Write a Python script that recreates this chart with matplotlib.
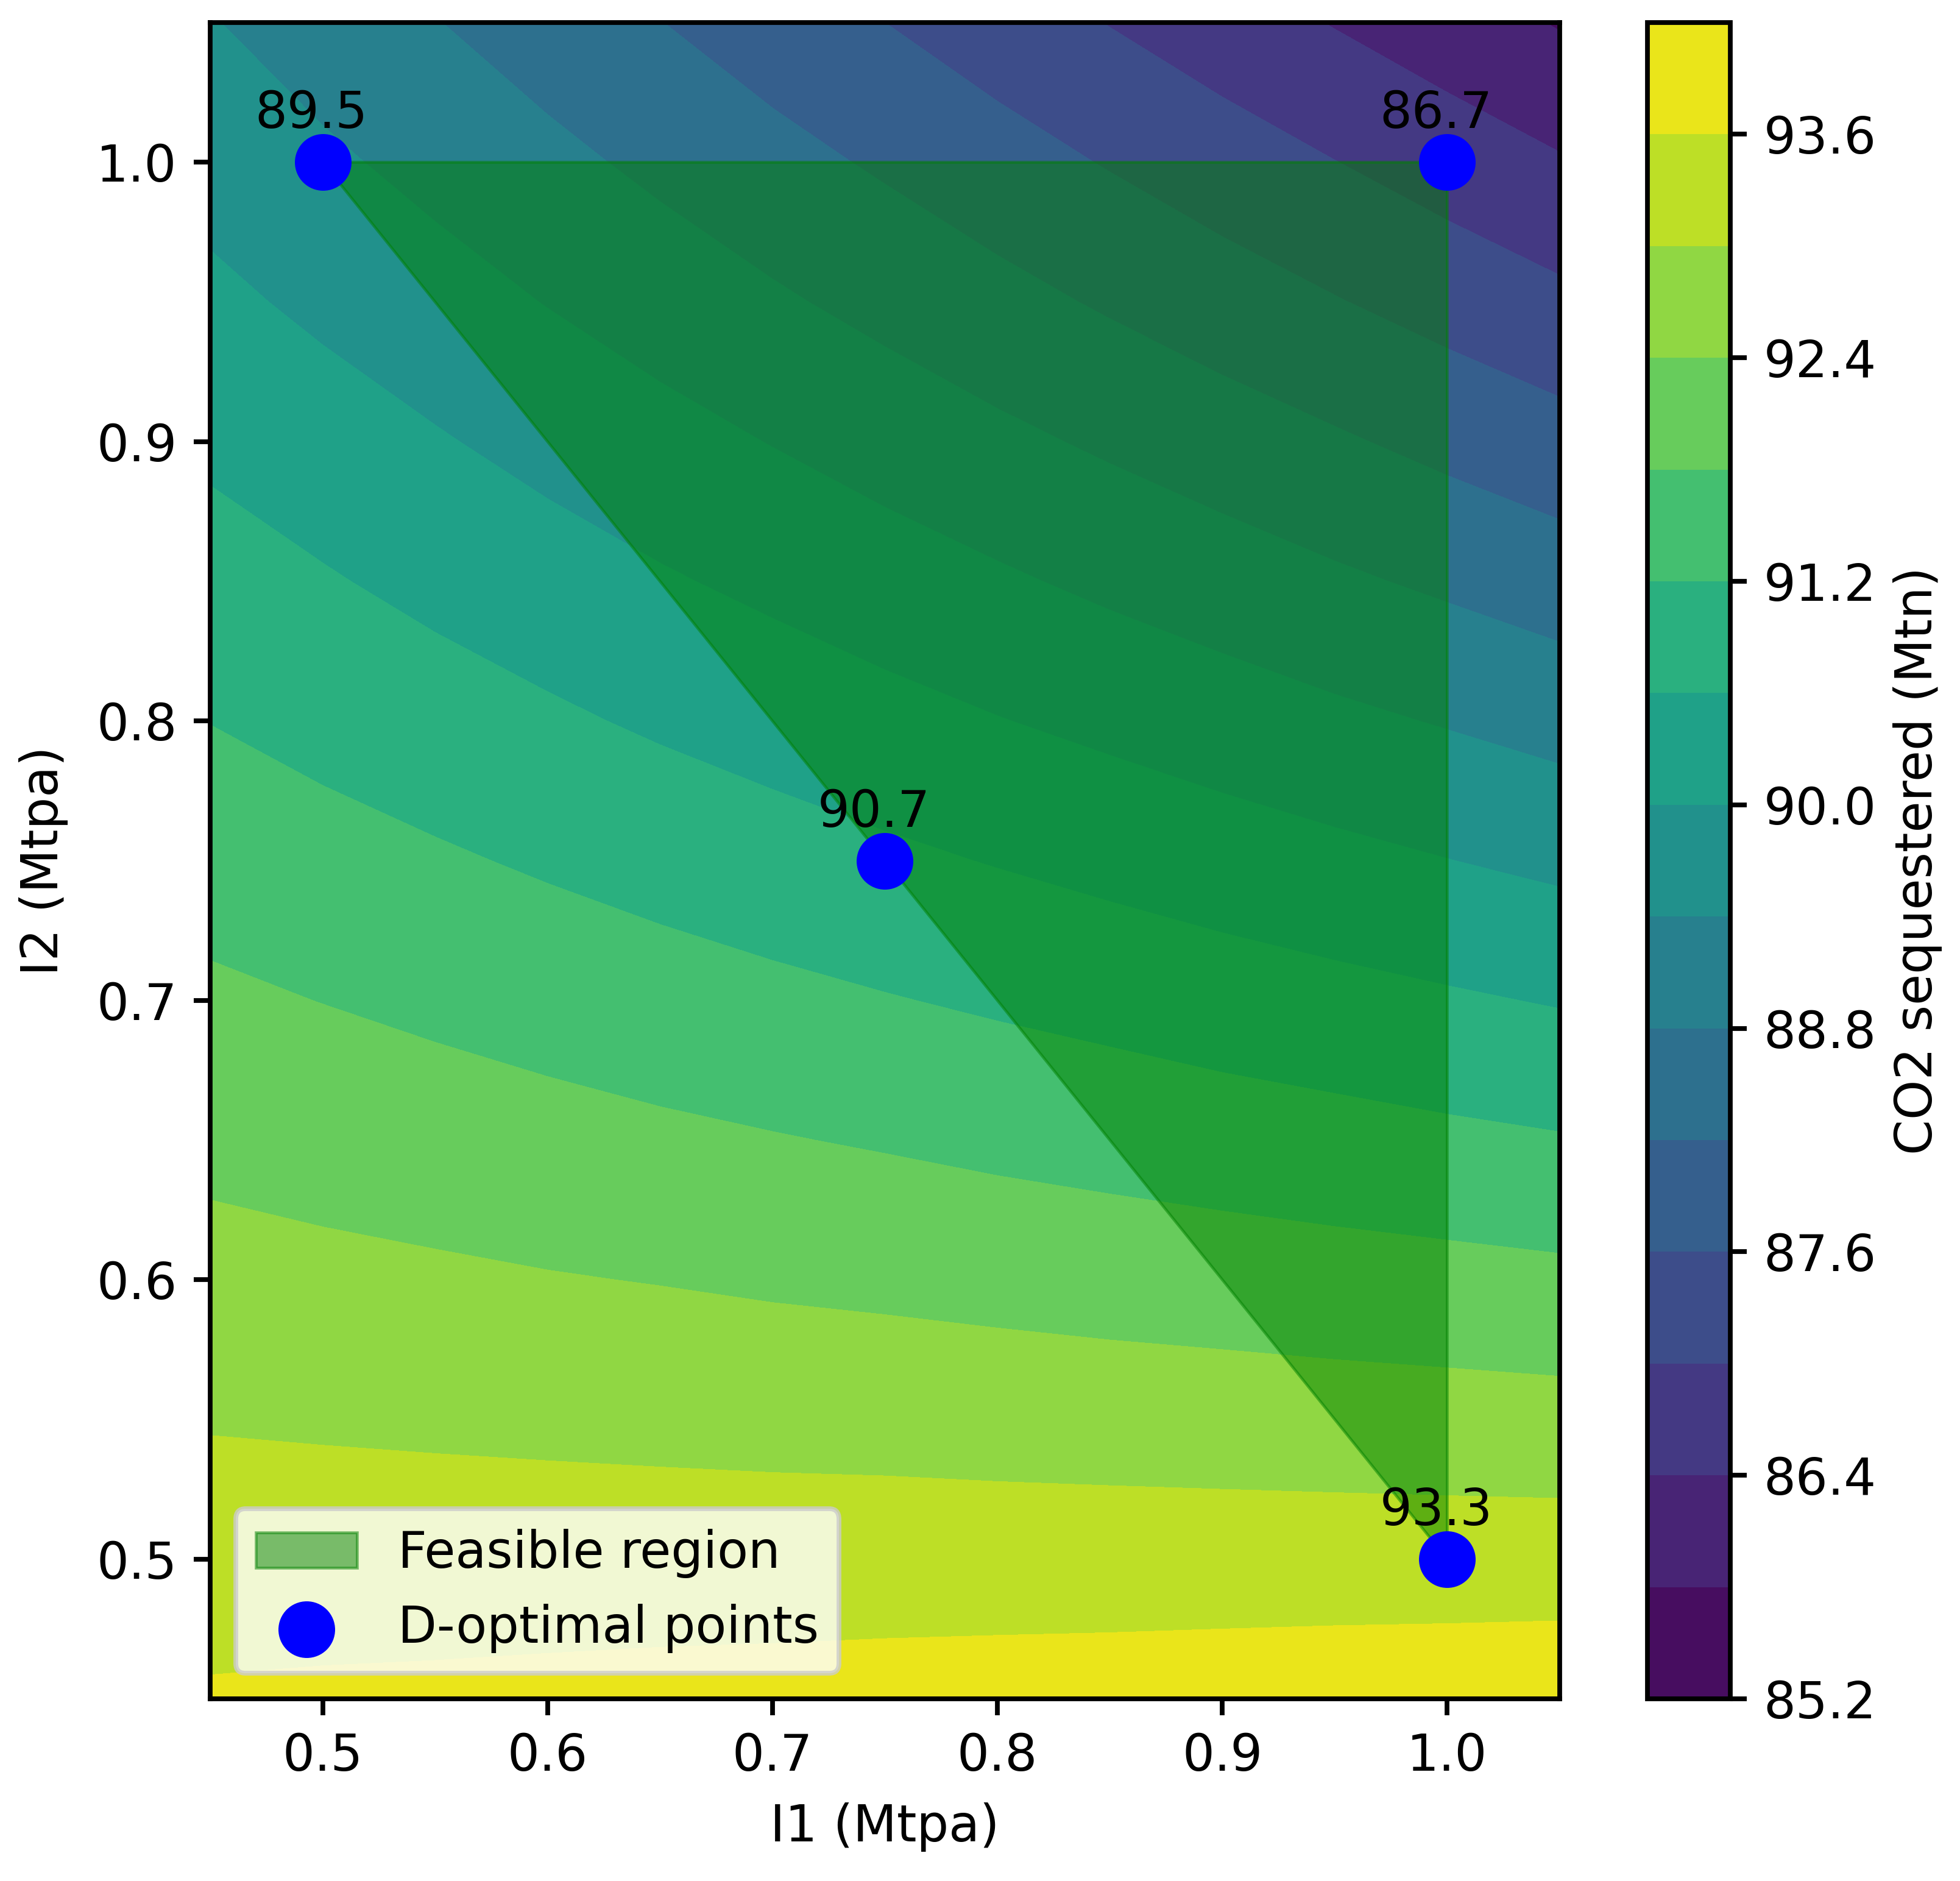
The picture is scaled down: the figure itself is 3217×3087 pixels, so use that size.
import matplotlib
matplotlib.use('Agg')
import matplotlib.pyplot as plt
import numpy as np

# Valores
i1 = [0.45, 0.50, 0.55, 0.60, 0.65, 0.70, 0.75, 0.80, 0.85, 0.90, 0.95, 1.00, 1.05]
i2 = [0.45, 0.50, 0.55, 0.60, 0.65, 0.70, 0.75, 0.80, 0.85, 0.90, 0.95, 1.00, 1.05]
co2 = [
    [93.66, 93.69, 93.71, 93.74, 93.77, 93.79, 93.82, 93.85, 93.87, 93.90, 93.93, 93.95, 93.98],
    [93.31, 93.31, 93.31, 93.31, 93.31, 93.31, 93.31, 93.30, 93.30, 93.30, 93.30, 93.30, 93.30],
    [92.96, 92.93, 92.90, 92.87, 92.84, 92.81, 92.79, 92.76, 92.73, 92.70, 92.67, 92.64, 92.61],
    [92.60, 92.54, 92.49, 92.43, 92.38, 92.32, 92.27, 92.21, 92.15, 92.10, 92.04, 91.99, 91.93],
    [92.25, 92.17, 92.08, 92.00, 91.91, 91.83, 91.75, 91.66, 91.58, 91.49, 91.41, 91.32, 91.24],
    [91.90, 91.79, 91.68, 91.56, 91.45, 91.34, 91.23, 91.12, 91.01, 90.89, 90.78, 90.67, 90.56],
    [91.55, 91.41, 91.27, 91.13, 90.99, 90.85, 90.71, 90.57, 90.43, 90.29, 90.15, 90.01, 89.87],
    [91.19, 91.02, 90.86, 90.69, 90.52, 90.36, 90.19, 90.02, 89.86, 89.69, 89.52, 89.36, 89.19],
    [90.84, 90.65, 90.45, 90.26, 90.06, 89.87, 89.67, 89.48, 89.28, 89.09, 88.89, 88.70, 88.50],
    [90.49, 90.27, 90.05, 89.82, 89.60, 89.38, 89.16, 88.93, 88.71, 88.49, 88.27, 88.04, 87.82],
    [90.13, 89.88, 89.63, 89.38, 89.13, 88.88, 88.63, 88.38, 88.13, 87.88, 87.63, 87.38, 87.13],
    [89.78, 89.50, 89.23, 88.95, 88.67, 88.39, 88.12, 87.84, 87.56, 87.28, 87.01, 86.73, 86.45],
    [89.43, 89.12, 88.82, 88.51, 88.21, 87.90, 87.60, 87.29, 86.98, 86.68, 86.37, 86.07, 85.76],
]
levels = [85.2, 85.8, 86.4, 87.0, 87.6, 88.2, 88.8, 89.4, 90.0, 90.6,
          91.2, 91.8, 92.4, 93.0, 93.6, 94.2]
cbar_ticks = [85.2, 86.4, 87.6, 88.8, 90.0, 91.2, 92.4, 93.6]

region_i1 = [0.5, 1.0, 1.0, 0.75]
region_i2 = [1.0, 1.0, 0.5, 0.75]

point_i1 = [0.5, 1.0, 0.75, 1.0]
point_i2 = [1.0, 1.0, 0.75, 0.5]
point_labels = ['89.5', '86.7', '90.7', '93.3']

W, H = 3218, 3087
DPI = 560
plt.rcParams['font.size'] = 10.7
plt.rcParams['axes.linewidth'] = 1.0
plt.rcParams['xtick.major.width'] = 1.0
plt.rcParams['ytick.major.width'] = 1.0

fig = plt.figure(figsize=(W / DPI, H / DPI), dpi=DPI)
ax = fig.add_axes([345 / W, 1 - 2788 / H, (2560 - 345) / W, (2788 - 37) / H])
cax = fig.add_axes([2704 / W, 1 - 2788 / H, (2840 - 2704) / W, (2788 - 37) / H])

cf = ax.contourf(i1, i2, np.array(co2), levels=levels, cmap='viridis')
ax.fill(region_i1, region_i2, color='green', alpha=0.5, linewidth=0.6, label='Feasible region')
ax.scatter(point_i1, point_i2, color='blue', s=120, zorder=3, label='D-optimal points')
for x, y, txt in zip(point_i1, point_i2, point_labels):
    ax.text(x - 0.005, y + 0.0085, txt, ha='center', va='bottom', color='black', zorder=4)

ax.set_xlim(0.45, 1.05)
ax.set_ylim(0.45, 1.05)
ax.set_xticks([0.5, 0.6, 0.7, 0.8, 0.9, 1.0])
ax.set_yticks([0.5, 0.6, 0.7, 0.8, 0.9, 1.0])
ax.set_xlabel('I1 (Mtpa)', labelpad=4.5)
ax.set_ylabel('I2 (Mtpa)', labelpad=6)
ax.legend(loc='lower left')

cb = fig.colorbar(cf, cax=cax, ticks=cbar_ticks)
cb.set_label('CO2 sequestered (Mtn)', labelpad=3.5)

fig.savefig('out.png', dpi=DPI)
